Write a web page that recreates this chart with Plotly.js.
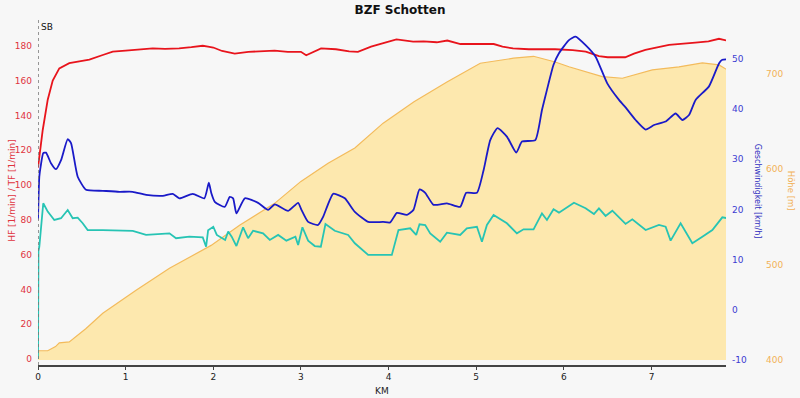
<!DOCTYPE html>
<html>
<head>
<meta charset="utf-8">
<script src="https://cdn.plot.ly/plotly-3.0.1.min.js"></script>
<style>html,body{margin:0;padding:0;background:#f7f7f7;}#chart{width:800px;height:398px;}</style>
</head>
<body>
<div id="chart"></div>
<script>
// ---- Data ----
const kmHR = [0, 0.015, 0.054, 0.111, 0.168, 0.243, 0.357, 0.471, 0.586, 0.739, 0.853, 1.0, 1.119, 1.309, 1.45, 1.61, 1.75, 1.88, 1.94, 2.0, 2.1, 2.245, 2.4, 2.55, 2.7, 2.85, 3.0, 3.06, 3.12, 3.23, 3.4, 3.55, 3.65, 3.8, 3.94, 4.09, 4.28, 4.4, 4.55, 4.67, 4.82, 5.05, 5.2, 5.3, 5.42, 5.6, 5.9, 6.1, 6.25, 6.4, 6.5, 6.7, 6.8, 6.93, 7.2, 7.5, 7.65, 7.77, 7.86];
const hr   = [110, 116, 131.6, 149, 160, 167, 170, 171, 172, 174.7, 176.6, 177.2, 177.6, 178.5, 178.2, 178.5, 179.2, 180, 179.5, 179, 177, 175.5, 176.5, 176.8, 177.2, 176.5, 176.5, 174.5, 176, 178.5, 178, 176.8, 176.5, 179.5, 181.5, 183.7, 182.4, 182.5, 182, 183, 181, 181, 181, 179.5, 178.5, 178, 178, 177.5, 176.6, 174, 173.4, 173.4, 175.5, 177.6, 180.5, 181.8, 182.5, 184, 183];

const kmSpeed = [0, 0.015, 0.03, 0.06, 0.091, 0.148, 0.205, 0.263, 0.339, 0.377, 0.453, 0.548, 0.739, 0.928, 1.081, 1.233, 1.424, 1.538, 1.613, 1.766, 1.898, 1.949, 1.978, 2.017, 2.131, 2.188, 2.226, 2.264, 2.36, 2.511, 2.626, 2.702, 2.854, 2.968, 3.006, 3.082, 3.196, 3.253, 3.368, 3.501, 3.615, 3.767, 3.938, 4.018, 4.095, 4.209, 4.284, 4.353, 4.418, 4.513, 4.666, 4.817, 4.886, 5.008, 5.084, 5.16, 5.243, 5.35, 5.457, 5.522, 5.674, 5.75, 5.807, 5.882, 5.944, 6.058, 6.133, 6.248, 6.362, 6.495, 6.629, 6.704, 6.819, 6.933, 7.029, 7.161, 7.275, 7.352, 7.428, 7.503, 7.656, 7.771, 7.808, 7.865];
const speed   = [18, 26.5, 28.5, 31.2, 31.3, 29.2, 28, 29.8, 34, 33.2, 26.5, 23.9, 23.7, 23.5, 23.5, 22.9, 22.7, 23.1, 22.2, 23.1, 22.2, 25.3, 23.2, 21.5, 20.5, 22.5, 22.2, 19.2, 22.2, 21.3, 19.9, 21, 19.7, 21.3, 19.9, 17.5, 16.9, 18.5, 23.1, 22.2, 19.5, 17.5, 17.5, 17.4, 19.3, 18.9, 19.9, 24, 23.3, 20.9, 21.2, 20.5, 23.3, 23.3, 27.8, 33.8, 36.2, 34.5, 31.3, 33.5, 33.8, 39.8, 43.8, 48.8, 51.1, 53.7, 54.4, 52.7, 50.4, 45.1, 41.8, 40.3, 37.8, 35.9, 36.8, 37.5, 39.1, 37.8, 38.8, 41.8, 44.5, 49.1, 49.8, 49.9];

const kmCad = [0, 0.005, 0.015, 0.06, 0.111, 0.186, 0.263, 0.339, 0.396, 0.453, 0.51, 0.567, 0.739, 0.928, 1.081, 1.233, 1.5, 1.575, 1.727, 1.88, 1.918, 1.941, 1.975, 2.0, 2.04, 2.135, 2.17, 2.21, 2.264, 2.34, 2.397, 2.454, 2.568, 2.645, 2.74, 2.834, 2.937, 2.968, 3.017, 3.082, 3.158, 3.227, 3.28, 3.386, 3.539, 3.615, 3.767, 3.938, 4.037, 4.113, 4.247, 4.315, 4.353, 4.418, 4.475, 4.589, 4.666, 4.817, 4.893, 5.008, 5.065, 5.122, 5.198, 5.35, 5.464, 5.54, 5.654, 5.75, 5.807, 5.882, 5.944, 6.115, 6.248, 6.343, 6.4, 6.476, 6.553, 6.704, 6.781, 6.933, 7.085, 7.161, 7.218, 7.332, 7.466, 7.58, 7.694, 7.808, 7.865];
const cadence = [0, 62, 64.5, 89.5, 84.7, 79.9, 80.9, 85.6, 80.9, 81.2, 78, 74.1, 74.1, 73.7, 73.6, 71.3, 72.2, 69.4, 70.3, 69.9, 64.5, 74, 75, 76, 71.3, 68.4, 73.2, 70.3, 64.9, 75.7, 69.4, 73.7, 72.2, 68.4, 71.3, 68, 70.3, 65.5, 75.7, 68, 64.9, 64.5, 77.6, 73.7, 71.3, 66.5, 59.8, 59.8, 59.8, 74.1, 75.1, 71.3, 77.4, 77, 72.2, 67.4, 72.6, 71.3, 75.1, 76, 67.4, 77, 82.8, 78, 72.2, 74.5, 74.5, 83.7, 79.9, 86, 84.1, 89.8, 86.6, 83.3, 86.6, 82.2, 85.2, 77.6, 80.3, 74.1, 77, 76, 68, 78, 66.5, 70.3, 74.1, 81.4, 80.9];

const kmAlt = [0, 0.111, 0.2, 0.243, 0.357, 0.548, 0.739, 1.119, 1.5, 1.975, 2.3, 2.7, 3.0, 3.31, 3.615, 3.938, 4.29, 4.666, 5.046, 5.426, 5.654, 5.902, 6.058, 6.438, 6.667, 7.009, 7.314, 7.58, 7.77, 7.865];
const altitude = [409.7, 409.7, 414, 418, 419, 433, 449, 473, 496, 520, 541, 564, 587, 606, 622, 648, 670.5, 691, 710.7, 716, 718, 712, 707, 696.7, 695, 703.7, 707, 711, 709, 703.7];
const ALT_BASE = 400;

const kmTicks = [0, 1, 2, 3, 4, 5, 6, 7];
const hrTicks = [0, 20, 40, 60, 80, 100, 120, 140, 160, 180];
const speedTicks = [-10, 0, 10, 20, 30, 40, 50];
const speedTickText = ['-10', '0', '10', '20', '30', '40', '50'];
const altTicks = [400, 500, 600, 700];

const F = 'DejaVu Sans';

const traces = [
  { x: [kmAlt[0], kmAlt[kmAlt.length - 1]], y: [ALT_BASE, ALT_BASE], xaxis: 'x', yaxis: 'y',
    mode: 'lines', line: { width: 0, color: 'rgba(0,0,0,0)' }, hoverinfo: 'skip', showlegend: false },
  { x: kmAlt, y: altitude, xaxis: 'x', yaxis: 'y', mode: 'lines', fill: 'tonexty',
    fillcolor: '#fde8ae', line: { color: '#f3bb5c', width: 1.2 }, showlegend: false, name: 'Höhe' },
  { x: kmCad, y: cadence, xaxis: 'x', yaxis: 'y2', mode: 'lines',
    line: { color: '#27c4b4', width: 1.8 }, showlegend: false, name: 'TF' },
  { x: kmHR, y: hr, xaxis: 'x', yaxis: 'y2', mode: 'lines',
    line: { color: '#e8141c', width: 1.8 }, showlegend: false, name: 'HF' },
  { x: kmSpeed, y: speed, xaxis: 'x', yaxis: 'y3', mode: 'lines',
    line: { color: '#1a1ac8', width: 1.8, shape: 'spline', smoothing: 0.5 }, showlegend: false, name: 'Geschwindigkeit' }
];

const layout = {
  width: 800, height: 398,
  margin: { l: 38, r: 0, t: 20, b: 33 },
  paper_bgcolor: '#f7f7f7', plot_bgcolor: '#f7f7f7',
  font: { family: F, size: 9, color: '#222' },
  showlegend: false,
  title: { text: 'BZF Schotten', font: { family: F, size: 12, color: '#111', weight: 'bold' },
           x: 0.5, xref: 'container', y: 0.975, yref: 'container', yanchor: 'middle' },
  xaxis: {
    domain: [0, 0.9029], range: [0, 7.85], anchor: 'y',
    tickvals: kmTicks, ticks: 'outside', ticklen: 3, tickcolor: '#444',
    showline: true, linecolor: '#444', linewidth: 1.5,
    showgrid: false, zeroline: false,
    tickfont: { family: F, size: 9, color: '#222' }
  },
  yaxis: {
    range: [394.76, 756.0], side: 'right', anchor: 'free', position: 0.9475,
    tickvals: altTicks, ticks: '', showline: false, showgrid: false, zeroline: false,
    tickfont: { family: F, size: 9, color: '#f2b257' }, ticklabelstandoff: 5
  },
  yaxis2: {
    overlaying: 'y', side: 'left', anchor: 'x', range: [-3.45, 194.8],
    tickvals: hrTicks, ticks: '', showline: false, showgrid: false, zeroline: false,
    tickfont: { family: F, size: 9, color: '#e0343e' }, ticklabelstandoff: 5
  },
  yaxis3: {
    overlaying: 'y', side: 'right', anchor: 'x', range: [-11.0, 57.72],
    tickvals: speedTicks, ticktext: speedTickText, ticks: '', showline: false, showgrid: false, zeroline: false,
    tickfont: { family: F, size: 9, color: '#3c3cd2' }, ticklabelstandoff: 5
  },
  shapes: [
    { type: 'line', xref: 'x', x0: 0, x1: 0, yref: 'paper', y0: 0, y1: 1,
      line: { color: '#777', width: 1.5, dash: 'dot' } }
  ],
  annotations: [
    { text: 'SB', xref: 'x', x: 0, yref: 'paper', y: 1, xanchor: 'left', yanchor: 'top',
      showarrow: false, xshift: 1, font: { family: F, size: 9, color: '#111' } },
    { text: 'HF [1/min] / TF [1/min]', textangle: -90, xref: 'paper', x: -0.0341, yref: 'paper', y: 0.505,
      xanchor: 'center', yanchor: 'middle', showarrow: false, font: { family: F, size: 9, color: '#e0343e' } },
    { text: 'Geschwindigkeit [km/h]', textangle: 90, xref: 'paper', x: 0.9436, yref: 'paper', y: 0.505,
      xanchor: 'center', yanchor: 'middle', showarrow: false, font: { family: F, size: 8, color: '#3030c0' } },
    { text: 'Höhe [m]', textangle: 90, xref: 'paper', x: 0.9882, yref: 'paper', y: 0.505,
      xanchor: 'center', yanchor: 'middle', showarrow: false, font: { family: F, size: 8.5, color: '#f2b257' } },
    { text: 'KM', xref: 'x domain', x: 0.5, yref: 'paper', y: -0.0745,
      xanchor: 'center', yanchor: 'middle', showarrow: false, font: { family: F, size: 9, color: '#222' } }
  ]
};

Plotly.newPlot('chart', traces, layout, { staticPlot: true, displayModeBar: false });
</script>
</body>
</html>
